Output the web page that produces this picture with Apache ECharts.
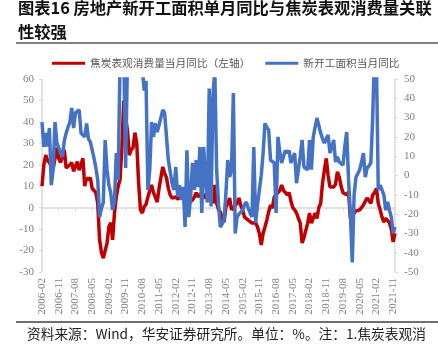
<!DOCTYPE html>
<html>
<head>
<meta charset="utf-8">
<script src="https://cdn.jsdelivr.net/npm/echarts@6/dist/echarts.min.js"></script>
<style>
  html, body { margin: 0; padding: 0; background: #fff; }
  #chart { width: 438px; height: 351px; }
</style>
</head>
<body>
<div id="chart"></div>
<script>
// 月份：2006-02 ~ 2021-12
var months = [];
for (var y = 2006; y <= 2021; y++) {
    for (var m = 1; m <= 12; m++) {
        if (y === 2006 && m === 1) continue;
        months.push(y + '-' + (m < 10 ? '0' + m : m));
    }
}

// 焦炭表观消费量当月同比（左轴）
var cokeYoy = [
    10, 20, 24.5, 22, 21, 19, 18, 17.5, 28, 23,
    21, 24, 27, 18.5, 19, 20, 21, 17, 19, 21.5,
    17.5, 20, 23, 10, 14, 13, 14, 9, 8, 7,
    2, -15, -21, -23.5, -20, -16.5, -9, -7, -15, -2.5,
    5, 10, 13, 28, 50, 42, 36, 24.5, 27, 28,
    35, 30, 11.5, -1, -2.5, 0.5, 1.5, 5, 8, 10.6,
    7, 5, 2.6, 9, 14, 19, 16, 14, 9, 6,
    4.5, 5, 5, 4, 4.5, 5, 4.5, 5, 6, 2.2,
    3, 3.6, 5, 7, 5, 4.5, 7, 6, 4.5, 5,
    6, 4, 2, 10.6, 2, -1, -2, -5, -6.7, 0.3,
    2, 4.5, -1, 0, 0.3, 2, 4.5, 1, -1, -4.4,
    -5, -5.8, -6.5, -7.2, -6.7, -7, -9, -12, -17.4, -12,
    -9, -5.8, -2, 1.2, -0.2, 5, 6, 7, 8, 10.6,
    8, 7, 6, 7, 3, 0, -1, -2.5, -5, -7.2,
    -16.5, -14, -13.7, -7.2, -2.5, -7.2, -5, -2.5, -5, 0,
    2, 11.5, 17.5, 23, 15, 9.6, 10, 9.6, 11, 16.7,
    14.3, 10, 7, 6.5, 6, 7.3, -5, -3.5, -2.5, -1.5,
    -1, -1, 0, 1.2, 3, 4.5, 5, 2, 6, 7,
    9, 2, -1, -4.4, -6.7, -5, -5.8, -7, -10, -16,
    -12
];

// 新开工面积当月同比（右轴）
var startsYoy = [
    27.7, 14.8, 22, 15, 24.6, -5, 3, 27.7, 17, 18,
    11.6, 9.6, 18, 22, 25, 27.7, 35, 24.6, 32.4, 33,
    34, 22, 21, 20, 27, 19, 17.4, 16.8, 9, 4,
    -2.3, -21.5, -17, -14, 18.4, 3, -5, -9, -17.9, -13.7,
    11.6, -2.3, 60, 70, 65, 3.9, 60, 75, 80, 90,
    70, 85, 60, 65, 55, 44, 49, -7.5, 3, 27.7,
    20, 27, 22.5, 26, 25, 34, 32.4, 20, 8, 9,
    -4, -7.5, 4.4, -11, -5, -12.7, -6, -26.7, 13, -21.5,
    -11, 6.5, -7.5, 8, -6, 14.8, -19.4, 14.8, -2.3, -14,
    45, -16, 40.7, 55, 3, -15, -26.7, -25, -23, -9,
    8, -0.8, 3, 42.7, -30, -21.5, -20, -19, -18, -15,
    -13.7, -17, -19.4, -21.5, 14.8, -24.6, -15, -7.5, 0, 11.6,
    27, 25, 23.6, 8, 7, 6.5, -19.4, 20, 12, 6.5,
    10, 13, 11.6, 13, 6.5, 9, 11.6, -4, 3, 10,
    18.4, 4.4, 3.5, 3, 18.4, 3, 20, 25, 29.8, 26,
    22, 19, 16.8, 19, 21, 11.6, 15, 18.4, 7, 9.6,
    7, 6, 5.4, 15, 22.5, -2.3, -20, -45, -10, -0.8,
    1, 3, 7, 11.6, -0.8, 3.9, 5, 6.5, 30, 65,
    60, -7.5, -5, -4, -10, -18, -13.7, -18, -21.5, -30,
    -26.7
];

var seriesNames = ['焦炭表观消费量当月同比（左轴）', '新开工面积当月同比'];
var titleLines = ['图表16 房地产新开工面积单月同比与焦炭表观消费量关联', '性较强'];
var footText = '资料来源：Wind，华安证券研究所。单位：%。注：1.焦炭表观消';

var axisGray = '#d9d9d9';
var labelGray = '#7f7f7f';
var serif = '"Liberation Serif", "DejaVu Serif", serif';
var cjk = '"Noto Sans CJK SC", sans-serif';

var chart = echarts.init(document.getElementById('chart'));

chart.setOption({
    animation: false,
    backgroundColor: '#fff',
    color: ['#C00000', '#4472C4'],
    graphic: [
        {type: 'text', left: 18, top: 0, style: {text: titleLines[0], font: 'bold 16.3px ' + cjk, fill: '#111'}},
        {type: 'text', left: 18, top: 24, style: {text: titleLines[1], font: 'bold 16.3px ' + cjk, fill: '#111'}},
        {type: 'line', shape: {x1: 16, y1: 43, x2: 438, y2: 43}, style: {stroke: '#808080', lineWidth: 2}},
        {type: 'line', shape: {x1: 16, y1: 322, x2: 438, y2: 322}, style: {stroke: '#404040', lineWidth: 1.5}},
        {type: 'text', left: 27, top: 327, style: {text: footText, font: '13.7px ' + cjk, fill: '#222'}}
    ],
    legend: {
        data: seriesNames,
        left: 47,
        top: 53,
        icon: 'rect',
        itemWidth: 33,
        itemHeight: 3,
        itemGap: 15,
        textStyle: {fontSize: 10.7, color: '#595959', fontFamily: cjk}
    },
    grid: {left: 42, right: 43, top: 79, bottom: 79, containLabel: false},
    xAxis: [
        {
            type: 'category',
            data: months,
            boundaryGap: false,
            position: 'bottom',
            axisLine: {show: false, onZero: false},
            axisTick: {show: false},
            axisLabel: {
                interval: 8,
                rotate: 90,
                margin: 6,
                fontSize: 11,
                color: labelGray,
                fontFamily: serif
            }
        },
        {
            // 零轴线
            type: 'category',
            data: months,
            boundaryGap: false,
            position: 'bottom',
            axisLine: {show: true, onZero: true, onZeroAxisIndex: 0, lineStyle: {color: axisGray, width: 1.5}},
            axisTick: {show: true, interval: 8, length: 3, lineStyle: {color: axisGray}},
            axisLabel: {show: false}
        }
    ],
    yAxis: [
        {
            type: 'value',
            min: -30,
            max: 60,
            interval: 10,
            position: 'left',
            axisLine: {show: true, lineStyle: {color: axisGray, width: 1.5}},
            axisTick: {show: true, length: 3, lineStyle: {color: axisGray}},
            splitLine: {show: false},
            axisLabel: {margin: 8, fontSize: 11, color: labelGray, fontFamily: serif}
        },
        {
            type: 'value',
            min: -50,
            max: 50,
            interval: 10,
            position: 'right',
            axisLine: {show: true, lineStyle: {color: axisGray, width: 1.5}},
            axisTick: {show: true, length: 3, lineStyle: {color: axisGray}},
            splitLine: {show: false},
            axisLabel: {margin: 9, fontSize: 11, color: labelGray, fontFamily: serif}
        }
    ],
    series: [
        {
            name: seriesNames[0],
            type: 'line',
            data: cokeYoy,
            xAxisIndex: 0,
            yAxisIndex: 0,
            showSymbol: false,
            symbol: 'none',
            lineStyle: {width: 3.5, color: '#C00000'},
            z: 3
        },
        {
            name: seriesNames[1],
            type: 'line',
            data: startsYoy,
            xAxisIndex: 0,
            yAxisIndex: 1,
            showSymbol: false,
            symbol: 'none',
            lineStyle: {width: 3.5, color: '#4472C4'},
            z: 4
        }
    ]
});
</script>
</body>
</html>
